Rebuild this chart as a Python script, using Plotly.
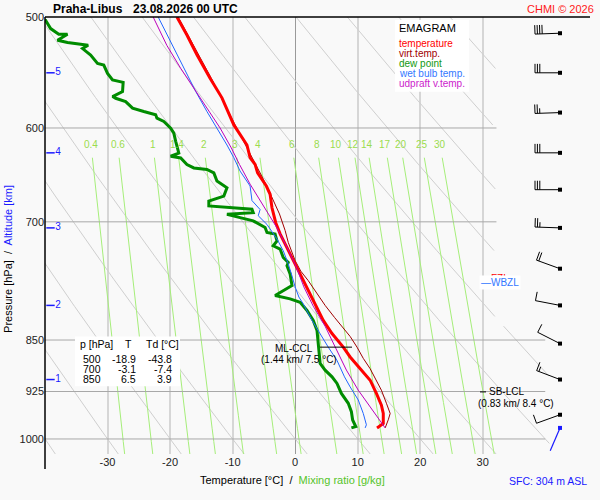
import numpy as np
import plotly.graph_objects as go

# ---- sounding curves (pressure hPa / temperature degC) ----
t_p = [500, 515, 532, 553, 571, 597, 617, 630, 637, 646, 660, 669, 684, 701, 714, 726,
       738, 754, 771, 788, 803, 823, 841, 860, 874, 891, 908, 928, 946, 959, 975, 982]
t_c = [-18.9, -17.3, -15.7, -13.6, -11.7, -9.8, -7.7, -7.2, -6.4, -6.0, -4.6, -4.0, -3.7, -3.1, -2.4, -1.6,
       -0.8, 0.3, 1.3, 2.3, 3.2, 4.5, 5.9, 7.7, 8.8, 10.4, 12.0, 13.0, 13.8, 14.1, 14.1, 13.1]

tv_p = [500, 553, 597, 630, 646, 662, 676, 691, 710, 724, 746, 759, 771, 787,
        803, 819, 834, 845, 860, 876, 891, 908, 923, 943, 959, 969, 982]
tv_c = [-18.7, -13.4, -9.6, -6.8, -5.6, -4.4, -3.5, -2.5, -1.6, -1.1, 0.0, 0.9, 2.1, 3.4,
        4.8, 6.3, 7.7, 8.8, 9.9, 10.9, 12.0, 13.0, 13.8, 14.6, 15.2, 14.9, 14.4]

td_p = [500, 502.7, 509.6, 514.3, 514.3, 519.4, 521.4, 523.1, 523.7, 526.6,
        532.3, 539.6, 541.1, 548.5, 554.5, 556.7, 565.2, 569.8, 571.4, 574.5,
        580.8, 584.0, 587.1, 590.4, 593.6, 600.1, 605.1, 613.3, 625.2, 628.5,
        630.3, 637.1, 640.7, 642.3, 645.9, 654.7, 661.9, 671.0, 676.5, 682.0,
        685.7, 689.5, 691.3, 695.2, 698.9, 706.6, 712.4, 714.3, 722.2, 728.1,
        732.0, 742.2, 748.3, 752.3, 762.6, 777.3, 790.1, 794.4, 798.8, 809.7,
        823.1, 836.6, 859.8, 883.4, 893.1, 903.0, 912.8, 927.9, 943.1, 956.2,
        969.3, 979.9, 982]
td_c = [-43.8, -39.9, -39.1, -37.8, -36.4, -38.0, -36.4, -34.3, -33.1, -34.0,
        -32.7, -31.6, -30.6, -30.0, -29.2, -27.5, -27.6, -29.2, -28.7, -27.1,
        -26.0, -24.2, -22.3, -22.1, -21.0, -19.9, -19.4, -19.1, -18.6, -19.9,
        -18.3, -17.3, -16.2, -14.1, -13.0, -12.5, -10.9, -11.4, -13.8, -13.8,
        -6.9, -6.7, -10.9, -8.8, -6.7, -4.8, -4.5, -3.2, -2.9, -3.5,
        -2.4, -1.9, -1.1, -1.3, -0.8, -0.5, -3.2, -0.8, 0.8, 1.9,
        2.9, 3.5, 3.7, 4.0, 4.8, 5.9, 6.7, 7.4, 8.5, 9.0,
        9.2, 9.7, 9.0]

tw_p = [500, 521, 532, 550, 565, 584, 600, 617, 630, 637, 644, 660, 676, 686, 693, 703, 708,
        720, 734, 750, 765, 779, 792, 801, 823, 842, 860, 879, 893, 903, 918, 938, 959, 977, 982]
tw_c = [-21.9, -19.9, -18.9, -17.3, -15.9, -14.1, -12.5, -10.9, -9.8, -9.3, -8.8, -7.2, -6.9, -5.6, -5.9, -4.5, -4.0,
        -2.9, -1.9, -1.1, -0.5, 0.0, 0.6, 1.3, 2.7, 4.0, 5.3, 6.7, 7.4, 7.9, 8.8, 10.1, 10.9, 11.4, 11.2]

up_p = [500, 524, 544, 562, 581, 600, 620, 637, 658, 688, 707, 730, 754, 779, 804, 831,
        855, 879, 893, 923, 948, 969, 982]
up_c = [-22.7, -20.5, -18.3, -16.2, -14.1, -12.0, -10.2, -8.9, -7.2, -4.5, -2.9, -1.3, 0.2, 1.4, 2.9, 4.8,
        6.1, 7.4, 8.2, 10.1, 12.0, 13.6, 14.4]

# altitude levels (km) with their pressure, and the wind at those levels
alt_km = [0.5, 1, 1.5, 2, 2.5, 3, 3.5, 4, 4.5, 5, 5.5]
alt_p = [961, 907, 855, 803, 756, 707, 664, 625, 585, 548, 513.5]
wind_dir = [250, 291, 297, 281, 290, 272, 270, 270, 268, 270, 268]
wind_kt = [10, 15, 10, 10, 20, 25, 30, 30, 25, 30, 40]
sfc_p = 982
sfc_dir = 203
sfc_kt = 3

tab_p = [500, 700, 850]
tab_t = [-18.9, -3.1, 6.5]
tab_td = [-43.8, -7.4, 3.9]

mix_ratios = [0.4, 0.6, 1, 1.4, 2, 3, 4, 6, 8, 10, 12, 14, 17, 20, 25, 30]
theta_c = list(range(-40, 101, 10))
isobars = [600, 700, 850, 925, 1000]
p_ticks = [500, 600, 700, 850, 925, 1000]
t_ticks = [-30, -20, -10, 0, 10, 20, 30]

# ---- frame geometry ----
FONT = "Liberation Sans, Arial, sans-serif"
L, TOP, PW, PH = 45, 15, 544, 439
X_RANGE = [-40, 47]
P_TOP, P_BOT = 500, 1025
K_X = PW / (X_RANGE[1] - X_RANGE[0])
K_Y = PH / np.log(P_BOT / P_TOP)
BG = "#f9f9f9"


def fx(px):
    return (px - L) / PW


def fy(py):
    return 1 - (py - TOP) / PH


def px_to_t(px):
    return X_RANGE[0] + (px - L) / K_X


def td_from_w(w, p):
    e = w * p / (622.0 + w)
    a = np.log(e / 6.112)
    return 243.5 * a / (17.67 - a)


fig = go.Figure()

# dry adiabats
p_line = np.linspace(P_TOP, P_BOT, 120)
ax, ay = [], []
for th in theta_c:
    tt = (th + 273.15) * (p_line / 1000.0) ** 0.2857 - 273.15
    for t, p in zip(tt, p_line):
        lim = 32.2 if p < 829 else 41
        if t <= lim:
            ax.append(t)
            ay.append(p)
        else:
            ax.append(None)
            ay.append(None)
    ax.append(None)
    ay.append(None)
fig.add_trace(go.Scatter(x=ax, y=ay, mode="lines", line=dict(color="#cfcfcf", width=1),
                         hoverinfo="skip"))

# mixing ratio lines
p_mix = np.linspace(630, P_BOT, 20)
mx, my = [], []
for w in mix_ratios:
    mx += list(td_from_w(w, p_mix)) + [None]
    my += list(p_mix) + [None]
fig.add_trace(go.Scatter(x=mx, y=my, mode="lines", line=dict(color="#a6ee7a", width=1),
                         hoverinfo="skip"))

# isobars
ix, iy = [], []
for p in isobars:
    ix += [X_RANGE[0], 32.2 if p < 800 else 40.0, None]
    iy += [p, p, None]
fig.add_trace(go.Scatter(x=ix, y=iy, mode="lines", line=dict(color="#a8a8a8", width=1),
                         hoverinfo="skip"))

# sounding curves
fig.add_trace(go.Scatter(x=td_c, y=td_p, mode="lines", line=dict(color="#008c00", width=3)))
fig.add_trace(go.Scatter(x=tv_c, y=tv_p, mode="lines", line=dict(color="#a00000", width=1)))
fig.add_trace(go.Scatter(x=t_c, y=t_p, mode="lines", line=dict(color="#ff0000", width=3)))
fig.add_trace(go.Scatter(x=tw_c, y=tw_p, mode="lines", line=dict(color="#2266ff", width=1)))
fig.add_trace(go.Scatter(x=up_c, y=up_p, mode="lines", line=dict(color="#bb00bb", width=1)))

# ML-CCL and SB-LCL markers
fig.add_trace(go.Scatter(x=[px_to_t(320), px_to_t(352), None, px_to_t(480), px_to_t(486)],
                         y=[860, 860, None, 925.6, 925.6], mode="lines",
                         line=dict(color="black", width=1)))

# altitude ticks
km_p = [p for k, p in zip(alt_km, alt_p) if float(k).is_integer()]
km_t = [str(int(k)) for k in alt_km if float(k).is_integer()]
fig.add_trace(go.Scatter(x=[px_to_t(50.5)] * len(km_p), y=km_p, mode="markers+text",
                         text=km_t, textposition="middle right",
                         textfont=dict(family=FONT, size=10, color="#1a1aff"),
                         marker=dict(symbol="line-ew", size=6, line=dict(width=1.5, color="#1a1aff")),
                         cliponaxis=False))

# wind barbs
STAFF, BARB, HALF, GAP = 25, 9, 5, 2.4
T_DOT = px_to_t(560)


def barb_xy(p, wdir, spd):
    th = np.radians(wdir)
    ux, uy = np.sin(th), np.cos(th)
    bx, by = uy, -ux
    segs = [((0, 0), (STAFF * ux, STAFF * uy))]
    pos = STAFF
    for _ in range(int(spd // 10)):
        s = (pos * ux, pos * uy)
        segs.append((s, (s[0] + BARB * bx, s[1] + BARB * by)))
        pos -= GAP
    if spd % 10 >= 5:
        s = (pos * ux, pos * uy)
        segs.append((s, (s[0] + HALF * bx, s[1] + HALF * by)))
    xs, ys = [], []
    for a, b in segs:
        for dx, dy in (a, b):
            xs.append(T_DOT + dx / K_X)
            ys.append(p * np.exp(-dy / K_Y))
        xs.append(None)
        ys.append(None)
    return xs, ys


bx_all, by_all = [], []
for p, d, s in zip(alt_p, wind_dir, wind_kt):
    xs, ys = barb_xy(p, d, s)
    bx_all += xs
    by_all += ys
fig.add_trace(go.Scatter(x=bx_all, y=by_all, mode="lines", line=dict(color="black", width=1),
                         cliponaxis=False))
fig.add_trace(go.Scatter(x=[T_DOT] * len(alt_p), y=alt_p, mode="markers",
                         marker=dict(symbol="square", size=4, color="black")))
sx, sy = barb_xy(sfc_p, sfc_dir, sfc_kt)
fig.add_trace(go.Scatter(x=sx, y=sy, mode="lines", line=dict(color="#1a1aff", width=1.2)))
fig.add_trace(go.Scatter(x=[T_DOT], y=[sfc_p], mode="markers",
                         marker=dict(symbol="square", size=4, color="#1a1aff")))

ann = []


def txt(x, y, s, size=10, color="black", xanchor="left", bold=False, **kw):
    if bold:
        s = "<b>" + s + "</b>"
    ann.append(dict(x=fx(x), y=fy(y), xref="paper", yref="paper", text=s, showarrow=False,
                    xanchor=xanchor, yanchor="middle",
                    font=dict(family=FONT, size=size, color=color), **kw))


# mixing ratio labels
for w in mix_ratios:
    lab = ("%g" % w)
    ann.append(dict(x=td_from_w(w, 616.4), y=np.log10(616.4), xref="x", yref="y", text=lab,
                    showarrow=False, xanchor="center", yanchor="middle",
                    font=dict(family=FONT, size=10, color="#9bdc4e")))

# titles
txt(50.5, 7, "Praha-Libus", size=12, bold=True)
txt(131, 7, "23.08.2026 00 UTC", size=12, bold=True)
txt(596, 7, "CHMI \u00a9 2026", size=11, color="#ff1a1a", xanchor="right")

# legend box
txt(397, 26, "EMAGRAM", size=11)
leg = [("temperature", "#ff0000"), ("virt.temp.", "#a00000"), ("dew point", "#119911"),
       ("wet bulb temp.", "#3377ff"), ("udpraft v.temp.", "#cc22cc")]
for i, (name, col) in enumerate(leg):
    txt(397, 42 + i * 9.9, name, size=10, color=col)

# table
txt(78, 343.5, "p [hPa]", size=10.5)
txt(128.5, 343.5, "T", size=10.5, xanchor="center")
txt(144, 343.5, "Td [\u00b0C]", size=10.5)
for i in range(len(tab_p)):
    yy = 358.3 + i * 10
    txt(102.5, yy, str(tab_p[i]), size=10.5, xanchor="right")
    txt(137.5, yy, "%.1f" % tab_t[i], size=10.5, xanchor="right")
    txt(173.5, yy, "%.1f" % tab_td[i], size=10.5, xanchor="right")

# level annotations
txt(294, 348, "ML-CCL", size=10, xanchor="center")
txt(298.5, 359, "(1.44 km/ 7.5 \u00b0C)", size=10, xanchor="center")
txt(487, 391.7, "SB-LCL", size=10)
txt(516, 403.5, "(0.83 km/ 8.4 \u00b0C)", size=10, xanchor="center")
txt(479, 277.5, "\u2014FZL", size=10, color="#ff0000")
txt(479, 281.5, "\u2014WBZL", size=10, color="#3377ff", bgcolor="white", borderpad=1)

# axis titles
txt(292, 480.5, "Temperature [\u00b0C]  /  <span style='color:#55c42a'>Mixing ratio [g/kg]</span>",
    size=11, xanchor="center")
txt(589, 481, "SFC: 304 m ASL", size=10.5, color="#1a1aff", xanchor="right")
ann.append(dict(x=fx(8), y=fy(258), xref="paper", yref="paper", textangle=-90, showarrow=False,
                text="Pressure [hPa]  /  <span style='color:#1a1aff'>Altitude [km]</span>",
                xanchor="center", yanchor="middle", font=dict(family=FONT, size=11, color="black")))

shapes = [
    dict(type="rect", xref="paper", yref="paper", x0=fx(395), x1=fx(469), y0=fy(18), y1=fy(90),
         fillcolor="white", line=dict(width=0), layer="above"),
    dict(type="rect", xref="paper", yref="paper", x0=fx(75), x1=fx(180), y0=fy(336), y1=fy(386),
         fillcolor="white", line=dict(width=0), layer="above"),
    dict(type="line", xref="paper", yref="paper", x0=fx(45), x1=fx(590), y0=1, y1=1,
         line=dict(color="black", width=1.5)),
    dict(type="line", xref="paper", yref="paper", x0=0, x1=0, y0=fy(469), y1=1,
         line=dict(color="black", width=1.5)),
]

fig.update_layout(
    width=600, height=500,
    margin=dict(l=L, r=600 - L - PW, t=TOP, b=500 - TOP - PH),
    paper_bgcolor=BG, plot_bgcolor=BG,
    showlegend=False,
    font=dict(family=FONT, size=11, color="#222222"),
    annotations=ann, shapes=shapes,
)
fig.update_xaxes(range=X_RANGE, tickvals=t_ticks, ticktext=[str(v) for v in t_ticks],
                 showgrid=True, gridcolor="#d6d6d6", gridwidth=1.5,
                 zeroline=True, zerolinecolor="#9a9a9a", zerolinewidth=1,
                 showline=False, ticks="", tickfont=dict(size=11))
fig.update_yaxes(type="log", range=[np.log10(P_BOT), np.log10(P_TOP)], tickvals=p_ticks,
                 ticktext=[str(v) for v in p_ticks], showgrid=False, zeroline=False,
                 showline=False, ticks="", tickfont=dict(size=11))

# the page is 600x500 exactly, so drop the browser's default body margin
fig.write_html("out.html", config={"displayModeBar": False},
               post_script="document.body.style.margin='0px';")
